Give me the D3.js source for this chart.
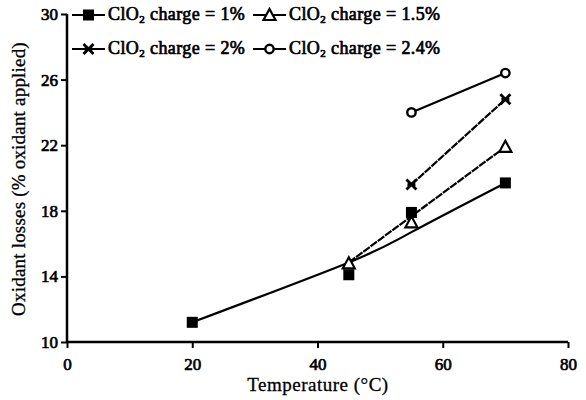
<!DOCTYPE html>
<html><head><meta charset="utf-8">
<script src="https://cdn.jsdelivr.net/npm/d3@7"></script>
<style>body{margin:0;background:#fff}svg{display:block}</style>
</head><body><svg id="c" width="586" height="400" font-family="'Liberation Serif', 'DejaVu Serif', serif"></svg>
<script>
// Data
const xTicks = [0, 20, 40, 60, 80];
const yTicks = [10, 14, 18, 22, 26, 30];
const seriesNames = ["1%", "1.5%", "2%", "2.4%"];
const temp1 = [20, 45, 55, 70];
const loss1 = [11.2, 14.1, 17.9, 19.7];
const temp15 = [45, 55, 70];
const loss15 = [14.8, 17.3, 21.9];
const temp2 = [55, 70];
const loss2 = [19.6, 24.8];
const temp24 = [55, 70];
const loss24 = [24.0, 26.4];
// fitted trend lines
const fitX1 = [20, 45, 55, 70];
const fitY1 = [11.2, 14.85, 16.7, 19.7];
const fitX15 = [45, 70];
const fitY15 = [14.85, 21.9];
const fitX2 = [55, 70];
const fitY2 = [19.6, 24.8];
const fitX24 = [55, 70];
const fitY24 = [24.0, 26.4];

const FONT = "'Liberation Serif', 'DejaVu Serif', serif";
const svg = d3.select("#c");
const x = d3.scaleLinear().domain([0, 80]).range([67, 568]);
const y = d3.scaleLinear().domain([10, 30]).range([342, 14]);

const series = [
  {name: seriesNames[0], px: temp1, py: loss1, fx: fitX1, fy: fitY1, sym: "square", curve: d3.curveNatural, dash: null},
  {name: seriesNames[1], px: temp15, py: loss15, fx: fitX15, fy: fitY15, sym: "triangle", curve: d3.curveLinear, dash: "8,1"},
  {name: seriesNames[2], px: temp2, py: loss2, fx: fitX2, fy: fitY2, sym: "star", curve: d3.curveLinear, dash: "8,1"},
  {name: seriesNames[3], px: temp24, py: loss24, fx: fitX24, fy: fitY24, sym: "circle", curve: d3.curveLinear, dash: null}
];

function drawSym(g, sym, cx, cy) {
  if (sym === "square") {
    g.append("rect").attr("x", cx - 5.5).attr("y", cy - 5.5).attr("width", 11).attr("height", 11).attr("fill", "#000");
  } else if (sym === "triangle") {
    g.append("path").attr("d", `M${cx},${cy-6}L${cx+6},${cy+5}L${cx-6},${cy+5}Z`)
      .attr("fill", "#fff").attr("stroke", "#000").attr("stroke-width", 2.2).attr("stroke-linejoin", "miter");
  } else if (sym === "star") {
    g.append("path").attr("d", `M${cx-5},${cy-5}L${cx+5},${cy+5}M${cx+5},${cy-5}L${cx-5},${cy+5}M${cx-4},${cy}L${cx+4},${cy}`)
      .attr("stroke", "#000").attr("stroke-width", 2.8).attr("fill", "none");
  } else if (sym === "circle") {
    g.append("circle").attr("cx", cx).attr("cy", cy).attr("r", 4.2)
      .attr("fill", "#fff").attr("stroke", "#000").attr("stroke-width", 2.4);
  }
}

// fake bold for serif text
function boldify(sel) {
  return sel.attr("font-weight", "normal").attr("stroke", "#000").attr("stroke-width", 0.7).attr("fill", "#000");
}

// Axes
const xAxis = d3.axisBottom(x).tickValues(xTicks).tickSize(6).tickPadding(10);
const yAxis = d3.axisLeft(y).tickValues(yTicks).tickSize(6).tickPadding(3);
const gx = svg.append("g").attr("transform", "translate(0,342)").call(xAxis);
const gy = svg.append("g").attr("transform", "translate(67,0)").call(yAxis);
[gx, gy].forEach(g => {
  g.attr("font-family", FONT).attr("font-size", 17);
  g.select(".domain").attr("stroke", "#000").attr("stroke-width", 2.5);
  g.selectAll(".tick line").attr("stroke", "#000").attr("stroke-width", 2);
  boldify(g.selectAll(".tick text"));
});
gx.select(".domain").attr("d", "M67,0H568");
gy.select(".domain").attr("d", "M0,14V342");

// Lines
series.forEach(s => {
  const pts = s.fx.map((v, i) => [v, s.fy[i]]);
  svg.append("path").datum(pts)
    .attr("d", d3.line().x(d => x(d[0])).y(d => y(d[1])).curve(s.curve))
    .attr("fill", "none").attr("stroke", "#000").attr("stroke-width", 2.2)
    .attr("stroke-dasharray", s.dash);
});
// Points
series.forEach(s => {
  const g = svg.append("g");
  s.px.forEach((v, i) => drawSym(g, s.sym, x(v), y(s.py[i])));
});

// Legend
const legendPos = [[72, 15], [253, 15], [72, 49], [253, 49]];
series.forEach((s, i) => {
  const [lx, ly] = legendPos[i];
  const g = svg.append("g");
  g.append("line").attr("x1", lx).attr("x2", lx + 33).attr("y1", ly).attr("y2", ly)
    .attr("stroke", "#000").attr("stroke-width", 2.2);
  drawSym(g, s.sym, lx + 16.5, ly);
  const t = g.append("text").attr("x", lx + 36).attr("y", ly + 5)
    .attr("font-family", FONT).attr("font-size", 18).attr("letter-spacing", 0.4);
  boldify(t);
  t.append("tspan").text("ClO");
  t.append("tspan").text("2").attr("dy", 3).attr("font-size", 11);
  t.append("tspan").text(" charge = " + s.name).attr("dy", -3);
});

// Axis titles
svg.append("text").attr("x", 318).attr("y", 391).attr("text-anchor", "middle")
  .attr("font-family", FONT).attr("font-size", 19).attr("letter-spacing", 0.5)
  .attr("stroke", "#000").attr("stroke-width", 0.3).text("Temperature (°C)");
svg.append("text").attr("transform", "translate(25,179) rotate(-90)").attr("text-anchor", "middle")
  .attr("font-family", FONT).attr("font-size", 19).attr("letter-spacing", 0.2)
  .attr("stroke", "#000").attr("stroke-width", 0.3).text("Oxidant losses (% oxidant applied)");
</script></body></html>
